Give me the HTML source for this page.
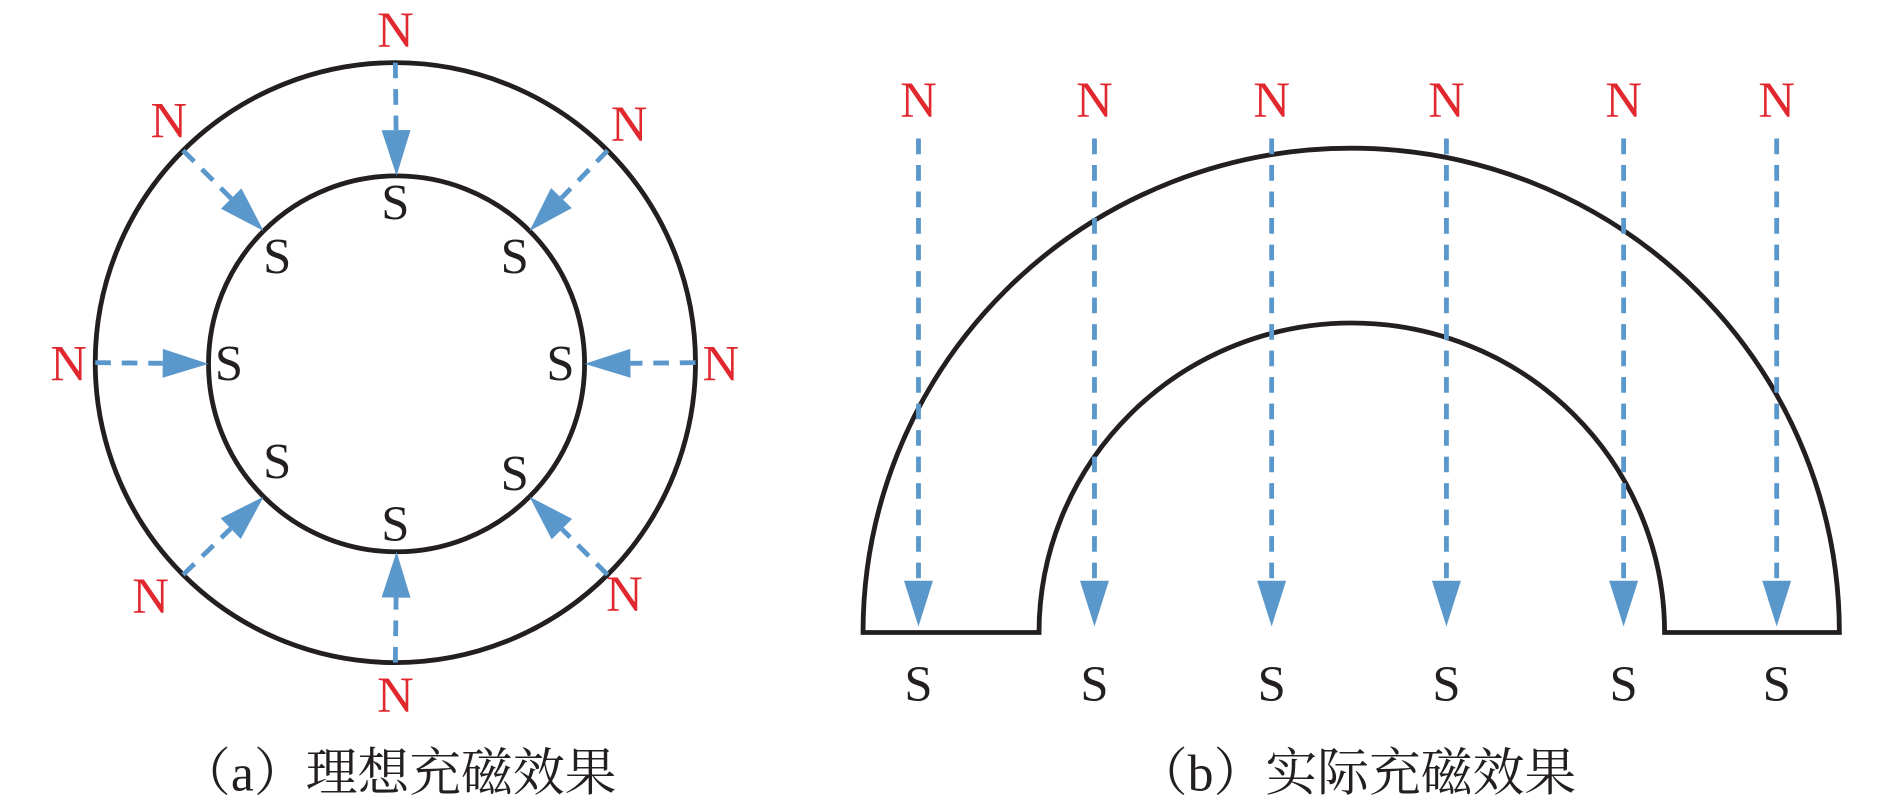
<!DOCTYPE html>
<html><head><meta charset="utf-8"><style>html,body{margin:0;padding:0;background:#fff}svg{display:block}</style></head>
<body>
<svg width="1890" height="812" viewBox="0 0 1568 674" preserveAspectRatio="none" xmlns="http://www.w3.org/2000/svg">
<g fill="none" stroke="#231f20" stroke-width="4">
<circle cx="328" cy="301" r="249"/>
<circle cx="329" cy="302" r="156"/>
<path d="M716,525 A405,402 0 0 1 1526,525 L1381,525 A259.5,257 0 0 0 862,525 Z"/>
</g>
<g id="arrows" stroke="#5a98cc" stroke-width="4" stroke-dasharray="13,9" fill="none">
</g>
<script>
(function(){
var g=document.getElementById('arrows'),ns='http://www.w3.org/2000/svg';
function arrow(x1,y1,x2,y2){
 var dx=x2-x1,dy=y2-y1,L=Math.hypot(dx,dy),ux=dx/L,uy=dy/L,h=38,w=12;
 var bx=x2-ux*h,by=y2-uy*h;
 var l=document.createElementNS(ns,'line');
 l.setAttribute('x1',x1);l.setAttribute('y1',y1);l.setAttribute('x2',bx);l.setAttribute('y2',by);g.appendChild(l);
 var p=document.createElementNS(ns,'polygon');
 p.setAttribute('points',x2+','+y2+' '+(bx-uy*w)+','+(by+ux*w)+' '+(bx+uy*w)+','+(by-ux*w));
 p.setAttribute('fill','#5a98cc');
 g.parentNode.appendChild(p);
}
for(var i=0;i<8;i++){var a=i*Math.PI/4;var c=Math.cos(a),s=Math.sin(a);
 arrow(328+249*c,301+249*s,329+156*c,302+156*s);}
[762,908,1055,1200,1347,1474].forEach(function(x){arrow(x,115,x,520);});
})();
</script>
<g font-family="Liberation Serif, serif" font-size="42" text-anchor="middle">
<g fill="#e0282e">
<text x="328" y="39">N</text><text x="140" y="114">N</text><text x="522" y="117">N</text>
<text x="57" y="316">N</text><text x="598" y="316">N</text>
<text x="125" y="509">N</text><text x="518" y="507">N</text><text x="328" y="591">N</text>
<text x="762" y="97">N</text><text x="908" y="97">N</text><text x="1055" y="97">N</text><text x="1200" y="97">N</text><text x="1347" y="97">N</text><text x="1474" y="97">N</text>
</g>
<g fill="#231f20">
<text x="328" y="182">S</text><text x="230" y="227">S</text><text x="427" y="227">S</text>
<text x="190" y="316">S</text><text x="465" y="316">S</text>
<text x="230" y="397">S</text><text x="427" y="407">S</text><text x="328" y="449">S</text>
<text x="762" y="582">S</text><text x="908" y="582">S</text><text x="1055" y="582">S</text><text x="1200" y="582">S</text><text x="1347" y="582">S</text><text x="1474" y="582">S</text>
</g>
</g>
<g font-family="Liberation Serif, 'Noto Serif CJK SC', serif" font-size="43" fill="#231f20" text-anchor="middle">
<text x="330" y="656">（a）理想充磁效果</text>
<text x="1125" y="656">（b）实际充磁效果</text>
</g>
</svg>
</body></html>
